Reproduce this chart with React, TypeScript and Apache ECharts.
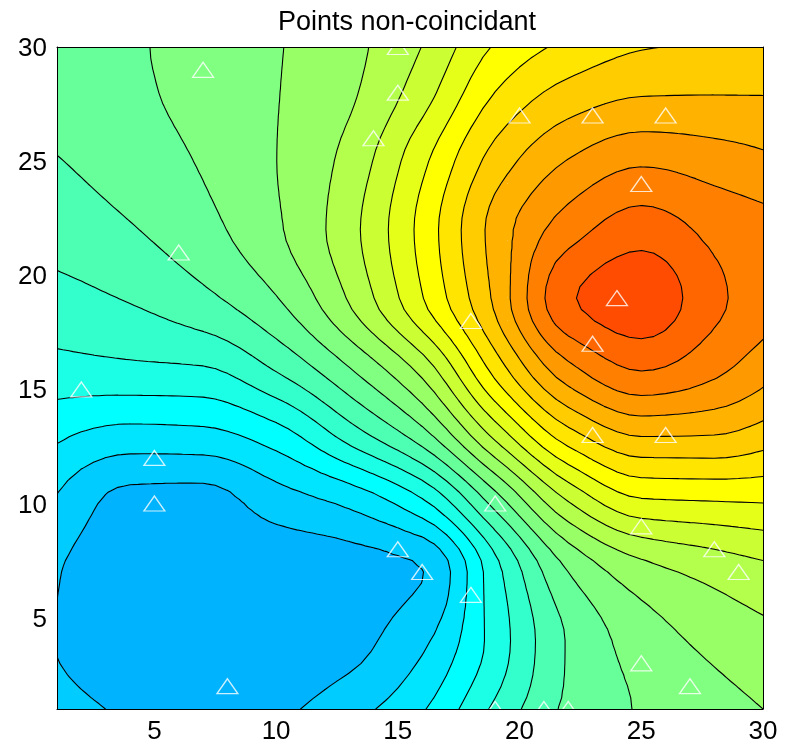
import React, { useEffect, useRef } from "react";
import * as echarts from "echarts";

// ---- data ----
// grid on which the contoured field was read (x and y coordinates)
const gridX = [1, 4, 7, 10, 13, 16, 19, 22, 25, 28, 30];
const gridY = [1, 4, 7, 10, 13, 16, 19, 22, 25, 28, 30];
// field value (in contour-level units) along each grid row, x = gridX
const zAtY1 = [1.35, 0.85, 0.5, 0.8, 1.6, 2.9, 5.2, 7.2, 8.09, 8.66, 9.0];
const zAtY4 = [0.97, 0.5, 0.35, 0.4, 0.7, 1.79, 4.41, 7.09, 8.46, 9.28, 9.68];
const zAtY7 = [1.05, 0.45, 0.3, 0.35, 0.55, 0.97, 4.64, 8.0, 9.59, 10.32, 10.72];
const zAtY10 = [1.85, 0.68, 0.6, 1.45, 2.17, 3.74, 7.35, 10.9, 12.75, 12.9, 12.98];
const zAtY13 = [3.18, 2.64, 2.72, 3.54, 5.45, 7.6, 11.3, 14.6, 16.07, 16.0, 15.54];
const zAtY16 = [4.7, 4.85, 4.98, 6.17, 8.02, 10.45, 14.47, 17.8, 19.15, 18.3, 17.48];
const zAtY19 = [5.7, 6.08, 6.77, 7.95, 10.1, 12.95, 16.2, 19.85, 20.7, 19.24, 18.45];
const zAtY22 = [6.38, 6.92, 7.68, 8.85, 10.65, 13.32, 16.38, 18.54, 19.54, 18.72, 18.3];
const zAtY25 = [6.95, 7.5, 8.09, 8.99, 10.33, 12.76, 15.42, 17.05, 17.85, 17.5, 17.2];
const zAtY28 = [7.5, 7.83, 8.31, 8.96, 9.84, 11.55, 14.02, 15.35, 15.9, 15.95, 15.95];
const zAtY30 = [7.7, 7.9, 8.37, 8.93, 9.71, 11.02, 13.1, 14.26, 14.94, 15.1, 15.2];
const zRows = [zAtY1, zAtY4, zAtY7, zAtY10, zAtY13, zAtY16, zAtY19, zAtY22, zAtY25, zAtY28, zAtY30];

// contour levels (20 lines -> 21 filled bands)
const levels = [1, 2, 3, 4, 5, 6, 7, 8, 9, 10, 11, 12, 13, 14, 15, 16, 17, 18, 19, 20];

// sample points (triangles)
const pointsX = [7, 15, 15, 14, 20, 23, 26, 25, 6, 24, 18, 23, 2, 23, 26, 5, 5, 19, 25, 28, 15, 16, 29, 18, 25, 27, 8, 19, 21, 22];
const pointsY = [29, 30, 28, 26, 27, 27, 27, 24, 21, 19, 18, 17, 15, 13, 13, 12, 10, 10, 9, 8, 8, 7, 7, 6, 3, 2, 2, 1, 1, 1];

const xTicks = [5, 10, 15, 20, 25, 30];
const yTicks = [5, 10, 15, 20, 25, 30];
const title = "Points non-coincidant";

// ---- colours: jet colormap slice ----
const NB = levels.length + 1;
const jet = (f: number) => {
  const c = (v: number) => Math.round(255 * Math.max(0, Math.min(1, v)));
  return `rgb(${c(1.5 - Math.abs(4 * f - 3))},${c(1.5 - Math.abs(4 * f - 2))},${c(1.5 - Math.abs(4 * f - 1))})`;
};
const bandColors = Array.from({ length: NB }, (_, i) => jet(0.3 + 0.025 * i));

// ---- geometry helpers ----
function pchip(xs: number[], ys: number[]) {
  const n = xs.length;
  const h: number[] = [];
  const del: number[] = [];
  for (let i = 0; i < n - 1; i++) {
    h.push(xs[i + 1] - xs[i]);
    del.push((ys[i + 1] - ys[i]) / h[i]);
  }
  const d = new Array(n).fill(0);
  for (let i = 1; i < n - 1; i++) {
    if (del[i - 1] * del[i] > 0) {
      const w1 = 2 * h[i] + h[i - 1];
      const w2 = h[i] + 2 * h[i - 1];
      d[i] = (w1 + w2) / (w1 / del[i - 1] + w2 / del[i]);
    }
  }
  const endSlope = (h0: number, h1: number, d0: number, d1: number) => {
    let s = ((2 * h0 + h1) * d0 - h0 * d1) / (h0 + h1);
    if (Math.sign(s) !== Math.sign(d0)) s = 0;
    else if (Math.sign(d0) !== Math.sign(d1) && Math.abs(s) > Math.abs(3 * d0)) s = 3 * d0;
    return s;
  };
  d[0] = endSlope(h[0], h[1], del[0], del[1]);
  d[n - 1] = endSlope(h[n - 2], h[n - 3], del[n - 2], del[n - 3]);
  return (x: number) => {
    let i = 0;
    while (i < n - 2 && x > xs[i + 1]) i++;
    const t = (x - xs[i]) / h[i];
    const t2 = t * t;
    const t3 = t2 * t;
    return (
      (2 * t3 - 3 * t2 + 1) * ys[i] +
      (t3 - 2 * t2 + t) * h[i] * d[i] +
      (-2 * t3 + 3 * t2) * ys[i + 1] +
      (t3 - t2) * h[i] * d[i + 1]
    );
  };
}

type V = [number, number, number];
const band = (z: number) => Math.min(NB, Math.max(1, Math.floor(z) + 1));

// keepAbove: keep z >= level ; otherwise keep z < level (same split rule everywhere)
function clip(poly: V[], level: number, keepAbove: boolean): V[] {
  const out: V[] = [];
  for (let i = 0; i < poly.length; i++) {
    const a = poly[i];
    const b = poly[(i + 1) % poly.length];
    const ina = keepAbove ? a[2] >= level : a[2] < level;
    const inb = keepAbove ? b[2] >= level : b[2] < level;
    if (ina) out.push(a);
    if (ina !== inb) {
      const t = (level - a[2]) / (b[2] - a[2]);
      out.push([a[0] + t * (b[0] - a[0]), a[1] + t * (b[1] - a[1]), level]);
    }
  }
  return out;
}

function buildGeometry() {
  const step = 0.5;
  const fx: number[] = [];
  for (let v = gridX[0]; v <= gridX[gridX.length - 1] + 1e-9; v += step) fx.push(v);
  const fy: number[] = [];
  for (let v = gridY[0]; v <= gridY[gridY.length - 1] + 1e-9; v += step) fy.push(v);
  const rowsFine = zRows.map((r) => {
    const f = pchip(gridX, r);
    return fx.map(f);
  });
  const F: number[][] = fy.map(() => new Array(fx.length).fill(0));
  for (let i = 0; i < fx.length; i++) {
    const f = pchip(gridY, rowsFine.map((r) => r[i]));
    for (let k = 0; k < fy.length; k++) F[k][i] = f(fy[k]);
  }
  const bandPolys: number[][][][] = Array.from({ length: NB }, () => []);
  const segs: number[][][] = [];
  const processTri = (tri: V[]) => {
    const zs = tri.map((v) => v[2]);
    const zmin = Math.min(...zs);
    const zmax = Math.max(...zs);
    const b0 = band(zmin);
    const b1 = band(zmax);
    for (let b = b0; b <= b1; b++) {
      let p = tri;
      if (b > 1) p = clip(p, b - 1, true);
      if (b < NB && p.length >= 3) p = clip(p, b, false);
      if (p.length >= 3) bandPolys[b - 1].push(p.map((v) => [v[0], v[1]]));
    }
    for (const L of levels) {
      if (L < zmin || L > zmax) continue;
      const pts: number[][] = [];
      for (let e = 0; e < 3; e++) {
        const a = tri[e];
        const c = tri[(e + 1) % 3];
        if ((a[2] >= L) !== (c[2] >= L)) {
          const t = (L - a[2]) / (c[2] - a[2]);
          pts.push([a[0] + t * (c[0] - a[0]), a[1] + t * (c[1] - a[1])]);
        }
      }
      if (pts.length === 2) segs.push(pts);
    }
  };
  for (let k = 0; k < fy.length - 1; k++) {
    let i = 0;
    while (i < fx.length - 1) {
      const z00 = F[k][i];
      const z10 = F[k][i + 1];
      const z01 = F[k + 1][i];
      const z11 = F[k + 1][i + 1];
      const b = band(z00);
      if (band(z10) === b && band(z01) === b && band(z11) === b) {
        let j = i + 1;
        while (j < fx.length - 1 && band(F[k][j + 1]) === b && band(F[k + 1][j + 1]) === b) j++;
        bandPolys[b - 1].push([
          [fx[i], fy[k]],
          [fx[j], fy[k]],
          [fx[j], fy[k + 1]],
          [fx[i], fy[k + 1]],
        ]);
        i = j;
        continue;
      }
      const A: V = [fx[i], fy[k], z00];
      const B: V = [fx[i + 1], fy[k], z10];
      const C: V = [fx[i + 1], fy[k + 1], z11];
      const D: V = [fx[i], fy[k + 1], z01];
      processTri([A, B, C]);
      processTri([A, C, D]);
      i++;
    }
  }
  return { bandPolys, segs };
}

const FONT = "'Liberation Sans', Arial, Helvetica, sans-serif";

export default function App() {
  const ref = useRef<HTMLDivElement>(null);
  useEffect(() => {
    if (!ref.current) return;
    document.body.style.margin = "0";
    const chart = echarts.init(ref.current, undefined, { renderer: "svg" });
    const { bandPolys, segs } = buildGeometry();

    const renderItem = (_params: any, api: any) => {
      const children: any[] = [];
      bandPolys.forEach((polys, bi) => {
        if (!polys.length) return;
        let d = "";
        for (const poly of polys) {
          const pts = poly.map((p) => api.coord(p));
          let area = 0;
          for (let i = 0; i < pts.length; i++) {
            const a = pts[i];
            const b = pts[(i + 1) % pts.length];
            area += a[0] * b[1] - b[0] * a[1];
          }
          if (area < 0) pts.reverse();
          d += "M" + pts.map((p: number[]) => p[0].toFixed(2) + " " + p[1].toFixed(2)).join("L") + "Z";
        }
        children.push({
          type: "path",
          shape: { pathData: d },
          style: { fill: bandColors[bi], stroke: null },
        });
      });
      let ld = "";
      for (const s of segs) {
        const a = api.coord(s[0]);
        const b = api.coord(s[1]);
        ld += `M${a[0].toFixed(2)} ${a[1].toFixed(2)}L${b[0].toFixed(2)} ${b[1].toFixed(2)}`;
      }
      children.push({
        type: "path",
        shape: { pathData: ld },
        style: { fill: null, stroke: "#000", lineWidth: 1.1, lineCap: "round", lineJoin: "round" },
      });
      return { type: "group", children };
    };

    const axisCommon = {
      type: "value" as const,
      min: 1,
      max: 30,
      splitLine: { show: false },
      axisTick: { show: false },
      axisLine: { show: true, onZero: false, lineStyle: { color: "#000", width: 1 } },
      z: 10,
    };

    chart.setOption({
      animation: false,
      grid: { left: 57, right: 24, top: 47, bottom: 37 },
      graphic: [
        {
          type: "text",
          x: 407,
          y: 21,
          style: {
            text: title,
            fill: "#000",
            font: `27px ${FONT}`,
            align: "center",
            verticalAlign: "middle",
          },
        },
      ],
      xAxis: [
        {
          ...axisCommon,
          position: "bottom",
          axisLabel: { customValues: xTicks, color: "#000", fontSize: 26, fontFamily: FONT, margin: 8 },
        },
        { ...axisCommon, position: "top", axisLabel: { show: false } },
      ],
      yAxis: [
        {
          ...axisCommon,
          position: "left",
          axisLabel: { customValues: yTicks, color: "#000", fontSize: 26, fontFamily: FONT, margin: 10 },
        },
        { ...axisCommon, position: "right", axisLabel: { show: false } },
      ],
      series: [
        {
          type: "custom",
          coordinateSystem: "cartesian2d",
          xAxisIndex: 0,
          yAxisIndex: 0,
          silent: true,
          clip: true,
          data: [[1, 1]],
          renderItem,
          z: 1,
        },
        {
          type: "scatter",
          xAxisIndex: 0,
          yAxisIndex: 0,
          symbol: "triangle",
          symbolSize: [21, 15],
          data: pointsX.map((x, i) => [x, pointsY[i]]),
          itemStyle: { color: "rgba(0,0,0,0)", borderColor: "#ffffff", borderWidth: 1.3 },
          silent: true,
          z: 5,
        },
      ],
    });
    return () => chart.dispose();
  }, []);
  return <div ref={ref} style={{ position: "fixed", left: 0, top: 0, width: 787, height: 746 }} />;
}
